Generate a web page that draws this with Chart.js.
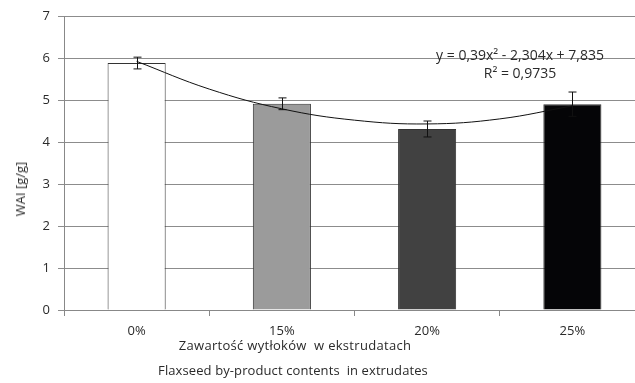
<!DOCTYPE html>
<html>
<head>
<meta charset="utf-8">
<script src="https://cdn.jsdelivr.net/npm/chart.js@4.4.1/dist/chart.umd.min.js"></script>
<style>
  html,body{margin:0;padding:0;background:#fff;overflow:hidden;width:635px;height:383px;}
  #wrap{position:absolute;left:0;top:0;width:650px;height:383px;}
  .lbl{position:absolute;font-family:"Open Sans",sans-serif;font-size:13px;color:#2a2a2a;white-space:nowrap;transform:translate(-50%,-50%);line-height:16px;}
</style>
</head>
<body>
<div id="wrap"><canvas id="c"></canvas></div>
<div class="lbl" style="left:295px;top:345px;letter-spacing:0.3px;">Zawartość wytłoków&nbsp; w ekstrudatach</div>
<div class="lbl" style="left:293px;top:370px;letter-spacing:0.1px;">Flaxseed by-product contents&nbsp; in extrudates</div>
<div class="lbl" style="left:520px;top:55px;font-size:14px;">y = 0,39x² - 2,304x + 7,835</div>
<div class="lbl" style="left:520px;top:73px;font-size:14px;">R² = 0,9735</div>
<div class="lbl" style="left:20px;top:189px;transform:translate(-50%,-50%) rotate(-90deg);">WAI [g/g]</div>
<script>
const categories=['0%','15%','20%','25%'];
const waiValues=[5.88,4.91,4.31,4.90];
const waiErrors=[0.14,0.14,0.19,0.29];
const barColors=['#ffffff','#9b9b9b','#414141','#050507'];
// trend curve
const trendX=[1,1.5,2,2.5,3,3.5,4];
const trendY=[5.92,5.26,4.79,4.52,4.43,4.55,4.86];

const errorBars={
  id:'errorBars',
  afterDatasetsDraw(chart){
    const ctx=chart.ctx, y=chart.scales.y;
    const meta=chart.getDatasetMeta(0);
    ctx.save();
    ctx.strokeStyle='#111';
    ctx.lineWidth=1;
    meta.data.forEach((bar,i)=>{
      const x=Math.round(bar.x)+0.5;
      const t=y.getPixelForValue(waiValues[i]+waiErrors[i]);
      const b=y.getPixelForValue(waiValues[i]-waiErrors[i]);
      ctx.beginPath();
      ctx.moveTo(x,t);ctx.lineTo(x,b);
      ctx.moveTo(x-4,t);ctx.lineTo(x+4,t);
      ctx.moveTo(x-4,b);ctx.lineTo(x+4,b);
      ctx.stroke();
    });
    ctx.restore();
  }
};

new Chart(document.getElementById('c').getContext('2d'),{
  type:'bar',
  data:{
    labels:categories,
    datasets:[
      {
        data:waiValues,
        backgroundColor:barColors,
        borderColor:'#333',
        borderWidth:1,
        categoryPercentage:1,
        barPercentage:0.4,
        grouped:false,
        order:1
      },
      {
        type:'line',
        data:trendX.map((x,i)=>({x:x,y:trendY[i]})),
        xAxisID:'xl',
        borderColor:'#111',
        borderWidth:1,
        pointRadius:0,
        tension:0.4,
        fill:false,
        order:0
      }
    ]
  },
  options:{
    responsive:true,
    maintainAspectRatio:false,
    animation:false,
    layout:{padding:{left:0,right:5,top:16,bottom:0}},
    plugins:{legend:{display:false},tooltip:{enabled:false}},
    scales:{
      x:{
        grid:{display:true,drawOnChartArea:false,drawTicks:true,tickLength:6,color:'#888',offset:true},
        border:{color:'#888'},
        ticks:{color:'#2a2a2a',font:{family:'"Open Sans"',size:13},padding:7},
        afterFit:s=>{s.height=73;}
      },
      xl:{type:'linear',display:false,offset:false,min:0.5,max:4.5},
      y:{
        min:0,max:7,
        ticks:{stepSize:1,color:'#2a2a2a',font:{family:'"Open Sans"',size:13},padding:8},
        grid:{color:'#8c8c8c',tickLength:6},
        border:{color:'#888'},
        afterFit:s=>{s.width=64;}
      }
    }
  },
  plugins:[errorBars]
});
</script>
</body>
</html>
